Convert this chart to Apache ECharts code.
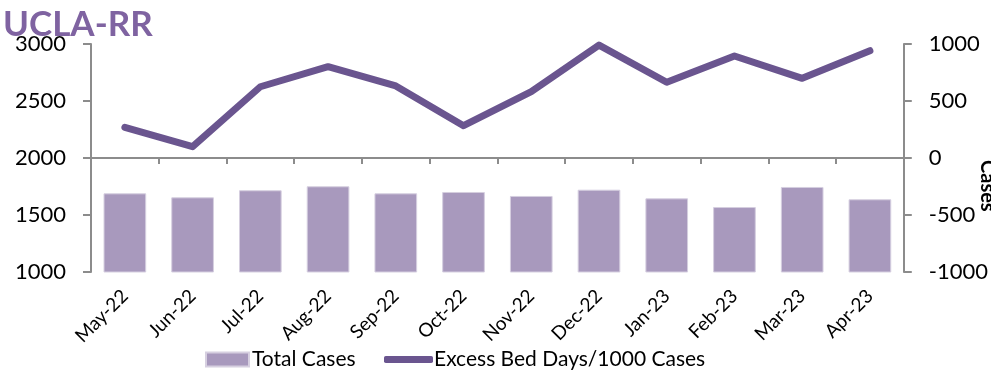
<!DOCTYPE html>
<html>
<head>
<meta charset="utf-8">
<script src="https://cdn.jsdelivr.net/npm/echarts@6/dist/echarts.min.js"></script>
<style>
  html, body { margin: 0; padding: 0; background: #fff; }
  #chart { width: 991px; height: 372px; }
</style>
</head>
<body>
<div id="chart"></div>
<script>
// Monthly totals and excess bed days per 1000 cases
const months = ['May-22', 'Jun-22', 'Jul-22', 'Aug-22', 'Sep-22', 'Oct-22',
                'Nov-22', 'Dec-22', 'Jan-23', 'Feb-23', 'Mar-23', 'Apr-23'];
const totalCases = [1690, 1655, 1717, 1752, 1690, 1702, 1667, 1722, 1646, 1570, 1746, 1638];
const excessBedDays = [269, 99, 625, 801, 632, 283, 582, 990, 664, 895, 699, 941];

const FONT = 'Lato';
const AXIS_GRAY = '#8c8c8c';
const plain = v => String(v);

const chart = echarts.init(document.getElementById('chart'));
chart.setOption({
  animation: false,
  textStyle: { fontFamily: FONT },
  title: {
    text: 'UCLA-RR',
    left: -2, top: 2,
    textStyle: { fontFamily: FONT, fontSize: 35, fontWeight: 'bold', color: '#7f63a1' }
  },
  grid: { left: 91, right: 86, top: 44, bottom: 100 },
  legend: [
    {
      data: ['Total Cases'],
      left: 200, top: 344,
      itemWidth: 43, itemHeight: 14, icon: 'rect',
      textStyle: { fontSize: 21, color: '#000', fontFamily: FONT, padding: [0, 0, 0, -2] }
    },
    {
      data: ['Excess Bed Days/1000 Cases'],
      left: 379, top: 344,
      itemWidth: 49, itemHeight: 7, icon: 'roundRect',
      textStyle: { fontSize: 21, color: '#000', fontFamily: FONT, padding: [0, 0, 0, -4] }
    }
  ],
  xAxis: {
    type: 'category',
    data: months,
    axisLine: { lineStyle: { color: AXIS_GRAY, width: 2 } },
    axisTick: { show: true, length: 6, lineStyle: { color: AXIS_GRAY, width: 2 } },
    axisLabel: { rotate: 45, fontSize: 19, color: '#000', margin: 21, fontFamily: FONT }
  },
  yAxis: [
    {
      type: 'value', min: 1000, max: 3000, interval: 500,
      axisLine: { show: true, lineStyle: { color: AXIS_GRAY, width: 2 } },
      axisTick: { show: true, length: 8, lineStyle: { color: AXIS_GRAY, width: 2 } },
      splitLine: { show: false },
      axisLabel: { fontSize: 22, color: '#000', margin: 25, fontFamily: FONT, formatter: plain }
    },
    {
      type: 'value', min: -1000, max: 1000, interval: 500,
      position: 'right',
      axisLine: { show: true, lineStyle: { color: AXIS_GRAY, width: 2 } },
      axisTick: { show: true, length: 8, lineStyle: { color: AXIS_GRAY, width: 2 } },
      splitLine: { show: false },
      axisLabel: { fontSize: 22, color: '#000', margin: 25, fontFamily: FONT, formatter: plain }
    }
  ],
  graphic: [
    {
      type: 'text',
      left: 977, top: 160,
      rotation: -Math.PI / 2,
      originX: 0, originY: 0,
      style: { text: 'Cases', font: 'bold 20px Lato', fill: '#000' }
    }
  ],
  series: [
    {
      name: 'Total Cases',
      type: 'bar',
      yAxisIndex: 0,
      data: totalCases,
      barCategoryGap: '37%',
      itemStyle: { color: '#a899bd', borderColor: '#d6cfe0', borderWidth: 1 }
    },
    {
      name: 'Excess Bed Days/1000 Cases',
      type: 'line',
      yAxisIndex: 1,
      data: excessBedDays,
      symbol: 'none',
      lineStyle: { color: '#6a558f', width: 7, cap: 'round', join: 'round' },
      itemStyle: { color: '#6a558f' }
    }
  ]
});
</script>
</body>
</html>
